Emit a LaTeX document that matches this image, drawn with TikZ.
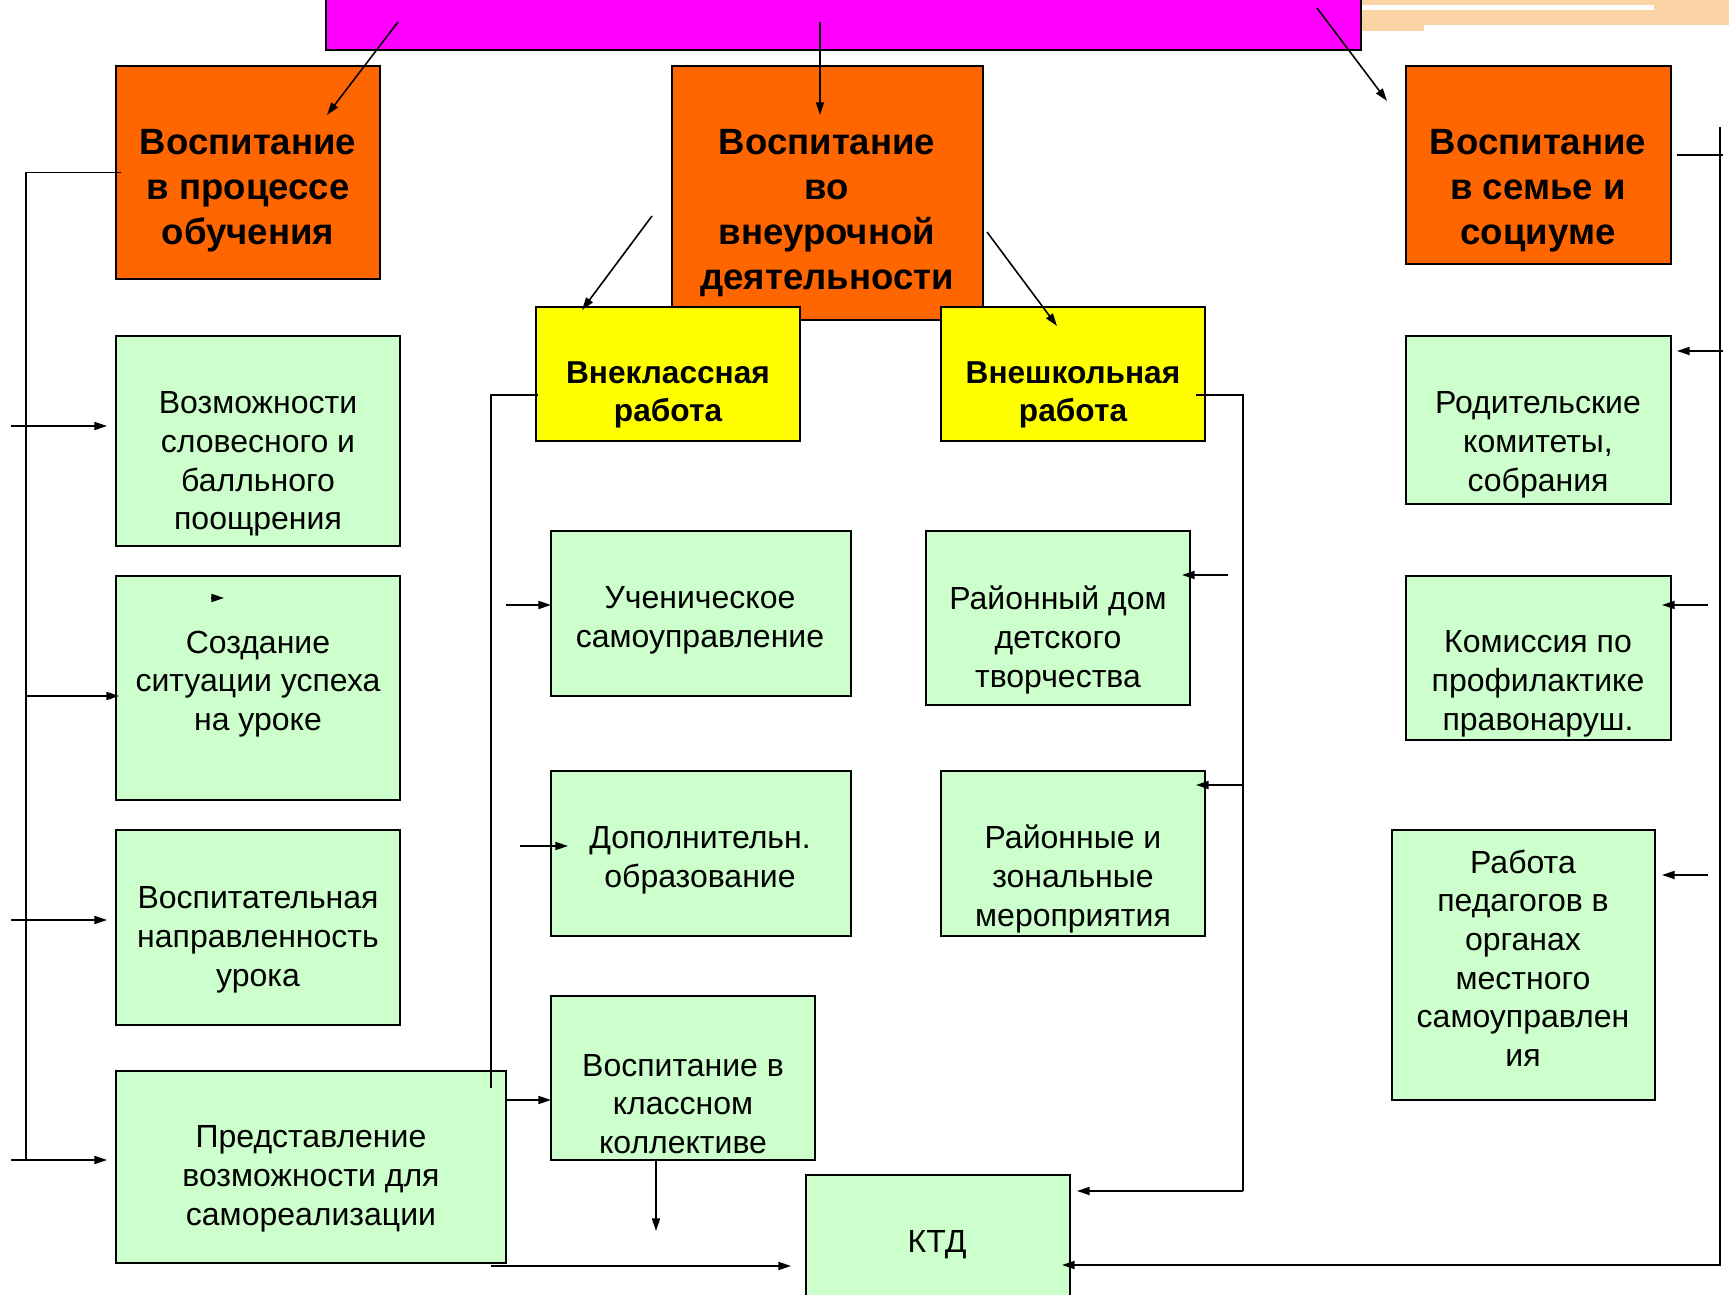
\documentclass[tikz,border=0pt]{standalone}
\usepackage{fontspec}
\setmainfont{Liberation Sans}
\usetikzlibrary{calc,arrows.meta}
\definecolor{titlemag}{RGB}{255,0,255}
\definecolor{stageorange}{RGB}{255,102,0}
\definecolor{formyellow}{RGB}{255,255,0}
\definecolor{itemgreen}{RGB}{204,255,204}
\definecolor{bandpeach}{RGB}{250,211,165}
\def\blockbox(#1,#2,#3,#4,#5,#6,#7,#8)#9{
  \node[#2box, minimum width={(#5-#3)*0.01cm}, minimum height={(#6-#4)*0.01cm}] (#1) at ({(#3+#5)/2},{(#4+#6)/2}) {};
  \node[#2text] (#1t) at (#7,{#8+4}) {#9};
}

\begin{document}
\begin{tikzpicture}[x=0.01cm, y=-0.01cm,
  obox/.style={draw, line width=0.55pt, fill=stageorange, inner sep=0pt, outer sep=0pt},
  ybox/.style={draw, line width=0.55pt, fill=formyellow, inner sep=0pt, outer sep=0pt},
  gbox/.style={draw, line width=0.55pt, fill=itemgreen, inner sep=0pt, outer sep=0pt},
  otext/.style={align=center, inner sep=0pt, font=\bfseries\fontsize{10.4}{12.8}\selectfont},
  ytext/.style={align=center, inner sep=0pt, font=\bfseries\fontsize{9}{11}\selectfont},
  gtext/.style={align=center, inner sep=0pt, font=\fontsize{9.1}{11}\selectfont},
  bus/.style={line width=0.45pt},
  link/.style={line width=0.45pt, -{Triangle[length=3.6pt,width=2.3pt]}}]
\useasboundingbox (0,0) rectangle (1729,1295);
\fill[bandpeach] (1362,0) rectangle (1729,25);
\fill[white] (1362,5) rectangle (1654,10);
\fill[bandpeach] (1362,25) rectangle (1424,31);
\node[draw, line width=0.55pt, fill=titlemag, minimum width=10.35cm, minimum height=0.7cm] (title) at (843.5,15) {};

\blockbox(ob1,o,116,66,380,279,248,187){Воспитание\\в процессе\\обучения}
\blockbox(ob2,o,672,66,983,320,827,209){Воспитание\\во\\внеурочной\\деятельности}
\blockbox(ob3,o,1406,66,1671,264,1538,187){Воспитание\\в семье и\\социуме}
\blockbox(yb1,y,536,307,800,441,668,391){Внеклассная\\работа}
\blockbox(yb2,y,941,307,1205,441,1073,391){Внешкольная\\работа}

\blockbox(gb1,g,116,336,400,546,258,460){Возможности\\словесного и\\балльного\\поощрения}
\blockbox(gb2,g,116,576,400,800,258,680){Создание\\ситуации успеха\\на уроке}
\blockbox(gb3,g,116,830,400,1025,258,936){Воспитательная\\направленность\\урока}
\blockbox(gb4,g,116,1071,506,1263,311,1175){Представление\\возможности для\\самореализации}
\blockbox(gm1,g,551,531,851,696,700,616){Ученическое\\самоуправление}
\blockbox(gm2,g,551,771,851,936,700,856){Дополнительн.\\образование}
\blockbox(gm3,g,551,996,815,1160,683,1100){Воспитание в\\классном\\коллективе}
\blockbox(ktd,g,806,1175,1070,1310,937,1241){КТД}
\blockbox(gr1,g,926,531,1190,705,1058,636){Районный дом\\детского\\творчества}
\blockbox(gr2,g,941,771,1205,936,1073,875){Районные и\\зональные\\мероприятия}
\blockbox(gq1,g,1406,336,1671,504,1538,441){Родительские\\комитеты,\\собрания}
\blockbox(gq2,g,1406,576,1671,740,1538,680){Комиссия по\\профилактике\\правонаруш.}
\blockbox(gq3,g,1392,830,1655,1100,1523,954){Работа\\педагогов в\\органах\\местного\\самоуправлен\\ия}

\coordinate (ta1) at (398,22);
\coordinate (tb1) at (327,115);
\coordinate (ta2) at (820,22);
\coordinate (tb2) at (820,115);
\coordinate (ta3) at (1317,8);
\coordinate (tb3) at (1387,101);
\coordinate (ma1) at (652,216);
\coordinate (mb1) at (582,310);
\coordinate (ma2) at (987,232);
\coordinate (mb2) at (1057,326);
\draw[link] (ta1) -- (tb1);
\draw[link] (ta2) -- (tb2);
\draw[link] (ta3) -- (tb3);
\draw[link] (ma1) -- (mb1);
\draw[link] (ma2) -- (mb2);

\coordinate (lbend) at (26,1160);
\coordinate (la1) at (11,426);
\coordinate (la2) at (26,696);
\coordinate (la3) at (11,920);
\coordinate (la4) at (11,1160);
\coordinate (stray) at (211,598);
\draw[bus] ([xshift=0.05cm]ob1.west) -| (lbend);
\draw[link] (la1) -- ([xshift=-0.09cm]la1 -| gb1.west);
\draw[link] (la2) -- ([xshift=0.03cm]la2 -| gb2.west);
\draw[link] (la3) -- ([xshift=-0.09cm]la3 -| gb3.west);
\draw[link] (la4) -- ([xshift=-0.09cm]la4 -| gb4.west);
\draw[link] (stray) -- ++(13,0);

\coordinate (mbtop) at (491,395);
\coordinate (mbend) at (491,1088);
\coordinate (ma3) at (506,605);
\coordinate (ma4) at (520,846);
\coordinate (ma5) at (506,1100);
\coordinate (ma6) at (656,1231);
\coordinate (ma7) at (491,1266);
\draw[bus] ([xshift=0.02cm]mbtop -| yb1.west) -- (mbtop) -- (mbend);
\draw[link] (ma3) -- (ma3 -| gm1.west);
\draw[link] (ma4) -- ([xshift=0.17cm]ma4 -| gm2.west);
\draw[link] (gb4.east |- ma5) -- (ma5 -| gm3.west);
\draw[link] (ma6 |- gm3.south) -- (ma6);
\draw[link] (ma7) -- ([xshift=-0.15cm]ma7 -| ktd.west);

\coordinate (rbtop) at (1243,395);
\coordinate (rbend) at (1243,1191);
\coordinate (ra1) at (1228,575);
\coordinate (ra2) at (1243,785);
\draw[bus] ([xshift=-0.09cm]rbtop -| yb2.east) -- (rbtop) -- (rbend);
\draw[link] (rbend) -- ([xshift=0.07cm]rbend -| ktd.east);
\draw[link] (ra1) -- ([xshift=-0.08cm]ra1 -| gr1.east);
\draw[link] (ra2) -- ([xshift=-0.09cm]ra2 -| gr2.east);

\coordinate (qtop) at (1720,127);
\coordinate (qend) at (1720,1265);
\coordinate (qa0) at (1723,155);
\coordinate (qa1) at (1723,351);
\coordinate (qa2) at (1708,605);
\coordinate (qa3) at (1708,875);
\draw[link] (qtop) -- (qend) -- ([xshift=-0.08cm]qend -| ktd.east);
\draw[bus] ([xshift=0.06cm]ob3.east |- qa0) -- (qa0);
\draw[link] (qa1) -- ([xshift=0.06cm]qa1 -| gq1.east);
\draw[link] (qa2) -- ([xshift=-0.09cm]qa2 -| gq2.east);
\draw[link] (qa3) -- ([xshift=0.07cm]qa3 -| gq3.east);
\end{tikzpicture}
\end{document}
